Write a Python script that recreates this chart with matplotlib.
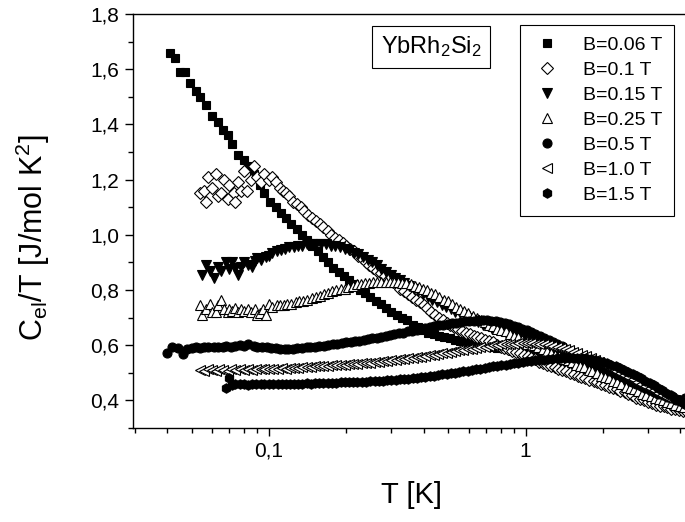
import matplotlib
matplotlib.use('Agg')
import matplotlib.pyplot as plt
from matplotlib.ticker import FixedLocator, FuncFormatter, LogLocator, NullFormatter, MultipleLocator

plt.rcParams['font.family'] = ['Liberation Sans', 'DejaVu Sans']
plt.rcParams['mathtext.fontset'] = 'custom'
plt.rcParams['mathtext.rm'] = 'Liberation Sans'
plt.rcParams['mathtext.it'] = 'Liberation Sans:italic'

# ---------------- data (T [K], C/T [J/mol K^2]) ----------------
B006 = [(0.041,1.66),(0.043,1.64),(0.045,1.59),(0.047,1.59),(0.049,1.55),(0.052,1.52),(0.054,1.50),(0.057,1.47),
        (0.060,1.43),(0.063,1.41),(0.066,1.38),(0.069,1.36),(0.072,1.33),(0.076,1.29),(0.080,1.27),(0.083,1.25),
        (0.087,1.22),(0.092,1.18),(0.096,1.15),(0.101,1.12),(0.106,1.10),(0.111,1.08),(0.116,1.06),(0.122,1.04),
        (0.128,1.02),(0.134,1.00),(0.141,0.98),(0.147,0.96),(0.155,0.94),(0.162,0.92),(0.170,0.90),(0.178,0.88),
        (0.187,0.865),(0.196,0.85),(0.205,0.835),(0.215,0.82),(0.226,0.80),(0.237,0.79),(0.248,0.775),(0.260,0.76),
        (0.273,0.75),(0.286,0.735),(0.300,0.72),(0.315,0.71),(0.330,0.70),(0.346,0.69),(0.363,0.675),(0.380,0.665),
        (0.399,0.655),(0.418,0.645),(0.438,0.64),(0.460,0.635),(0.482,0.63),(0.505,0.625),(0.530,0.62),(0.556,0.615),
        (0.583,0.61),(0.611,0.61),(0.641,0.605),(0.672,0.60),(0.705,0.60),(0.739,0.595),(0.775,0.59),(0.813,0.59),
        (0.852,0.585),(0.894,0.58),(0.937,0.575),(0.983,0.57),(1.03,0.565),(1.08,0.56),(1.13,0.555),(1.19,0.55),
        (1.25,0.545),(1.31,0.54),(1.37,0.535),(1.44,0.53),(1.51,0.52),(1.58,0.515),(1.66,0.51),(1.74,0.50),
        (1.82,0.495),(1.91,0.49),(2.00,0.48),(2.10,0.475),(2.20,0.47),(2.31,0.46),(2.42,0.455),(2.54,0.45),
        (2.66,0.44),(2.79,0.435),(2.93,0.43),(3.07,0.42),(3.22,0.41),(3.38,0.40),(3.54,0.395),(3.71,0.385),
        (3.89,0.375),(4.08,0.365),(4.2,0.36)]

B01 = [(0.054,1.15),(0.056,1.16),(0.057,1.12),(0.058,1.21),(0.060,1.17),(0.062,1.22),(0.063,1.14),(0.065,1.15),
       (0.067,1.20),(0.069,1.13),(0.070,1.18),(0.073,1.15),(0.074,1.12),(0.076,1.19),(0.078,1.16),(0.080,1.23),
       (0.082,1.16),(0.085,1.20),(0.087,1.25),(0.090,1.21),(0.093,1.19),(0.096,1.22),(0.100,1.20),(0.103,1.21),
       (0.106,1.19),(0.110,1.17),(0.113,1.16),(0.116,1.15),(0.120,1.14),(0.124,1.12),(0.128,1.11),(0.133,1.10),
       (0.137,1.085),(0.142,1.07),(0.147,1.06),(0.152,1.05),(0.158,1.04),(0.163,1.03),(0.169,1.015),(0.175,1.00),
       (0.181,0.99),(0.187,0.98),(0.194,0.97),(0.200,0.96),(0.207,0.95),(0.215,0.94),(0.222,0.925),(0.230,0.915),
       (0.238,0.90),(0.246,0.89),(0.255,0.88),(0.264,0.87),(0.273,0.86),(0.283,0.85),(0.293,0.84),(0.303,0.83),
       (0.314,0.82),(0.325,0.805),(0.336,0.795),(0.348,0.785),(0.360,0.775),(0.373,0.765),(0.386,0.755),(0.400,0.745),
       (0.414,0.735),(0.428,0.72),(0.443,0.71),(0.459,0.70),(0.475,0.69),(0.492,0.68),(0.509,0.675),(0.527,0.665),
       (0.546,0.66),(0.565,0.65),(0.585,0.645),(0.605,0.64),(0.627,0.635),(0.649,0.63),(0.672,0.625),(0.695,0.62),
       (0.720,0.615),(0.745,0.61),(0.771,0.60),(0.798,0.595),(0.826,0.59),(0.856,0.585),(0.886,0.58),(0.917,0.575),
       (0.949,0.57),(0.983,0.565),(1.02,0.56),(1.05,0.555),(1.09,0.55),(1.13,0.54),(1.17,0.535),(1.21,0.53),
       (1.25,0.525),(1.30,0.52),(1.34,0.515),(1.39,0.51),(1.44,0.505),(1.49,0.50),(1.54,0.495),(1.60,0.49),
       (1.65,0.485),(1.71,0.48),(1.77,0.475),(1.84,0.47),(1.90,0.465),(1.97,0.46),(2.04,0.455),(2.11,0.45),
       (2.19,0.445),(2.26,0.44),(2.34,0.435),(2.43,0.43),(2.51,0.425),(2.60,0.42),(2.70,0.41),(2.79,0.405),
       (2.89,0.40),(3.00,0.395),(3.10,0.39),(3.21,0.385),(3.33,0.38),(3.45,0.38),(3.57,0.375),(3.69,0.37),
       (3.82,0.37),(3.96,0.365),(4.10,0.36),(4.2,0.36)]

B015 = [(0.055,0.855),(0.057,0.89),(0.059,0.87),(0.061,0.845),(0.063,0.885),(0.065,0.87),(0.068,0.90),(0.070,0.875),
        (0.072,0.90),(0.074,0.88),(0.076,0.855),(0.078,0.885),(0.080,0.90),(0.083,0.89),(0.086,0.885),(0.088,0.905),
        (0.090,0.915),(0.093,0.91),(0.097,0.92),(0.100,0.925),(0.103,0.935),(0.107,0.94),(0.111,0.945),(0.115,0.95),
        (0.120,0.955),(0.125,0.955),(0.130,0.96),(0.135,0.96),(0.141,0.965),(0.147,0.965),(0.153,0.965),(0.160,0.965),
        (0.167,0.965),(0.174,0.96),(0.181,0.96),(0.189,0.955),(0.197,0.95),(0.205,0.945),(0.214,0.935),(0.223,0.93),
        (0.232,0.92),(0.242,0.91),(0.252,0.90),(0.263,0.89),(0.274,0.875),(0.286,0.865),(0.298,0.855),(0.310,0.845),
        (0.323,0.835),(0.337,0.825),(0.351,0.815),(0.366,0.805),(0.382,0.795),(0.398,0.785),(0.415,0.775),(0.432,0.765),
        (0.451,0.755),(0.470,0.745),(0.490,0.74),(0.510,0.73),(0.532,0.72),(0.554,0.715),(0.578,0.705),(0.602,0.70),
        (0.628,0.69),(0.654,0.685),(0.682,0.675),(0.711,0.67),(0.741,0.66),(0.772,0.655),(0.805,0.65),(0.839,0.645),
        (0.875,0.64),(0.912,0.635),(0.950,0.63),(0.990,0.625),(1.03,0.62),(1.08,0.61),(1.12,0.605),(1.17,0.595),
        (1.22,0.59),(1.27,0.58),(1.32,0.575),(1.38,0.565),(1.44,0.56),(1.50,0.55),(1.56,0.545),(1.63,0.535),
        (1.70,0.53),(1.77,0.52),(1.84,0.515),(1.92,0.51),(2.00,0.50),(2.09,0.495),(2.17,0.485),(2.27,0.48),
        (2.36,0.47),(2.46,0.465),(2.57,0.455),(2.67,0.45),(2.79,0.445),(2.91,0.435),(3.03,0.43),(3.16,0.425),
        (3.29,0.415),(3.43,0.41),(3.57,0.405),(3.72,0.395),(3.88,0.39),(4.04,0.385),(4.2,0.38)]

B025 = [(0.054,0.745),(0.055,0.71),(0.057,0.73),(0.059,0.75),(0.060,0.72),(0.062,0.72),(0.063,0.745),(0.065,0.765),
        (0.067,0.73),(0.069,0.72),(0.070,0.73),(0.072,0.725),(0.074,0.735),(0.076,0.72),(0.078,0.73),(0.080,0.725),
        (0.083,0.73),(0.085,0.72),(0.088,0.73),(0.090,0.71),(0.092,0.715),(0.095,0.73),(0.097,0.71),(0.100,0.75),
        (0.103,0.74),(0.107,0.745),(0.110,0.745),(0.114,0.745),(0.118,0.75),(0.122,0.75),(0.127,0.755),(0.131,0.76),
        (0.136,0.76),(0.141,0.765),(0.147,0.77),(0.152,0.775),(0.158,0.78),(0.164,0.785),(0.170,0.79),(0.176,0.795),
        (0.183,0.80),(0.190,0.805),(0.197,0.805),(0.204,0.81),(0.212,0.815),(0.220,0.82),(0.228,0.82),(0.237,0.825),
        (0.246,0.825),(0.255,0.83),(0.264,0.83),(0.274,0.83),(0.285,0.83),(0.295,0.83),(0.307,0.83),(0.318,0.83),
        (0.330,0.825),(0.343,0.825),(0.356,0.82),(0.369,0.815),(0.383,0.81),(0.398,0.805),(0.413,0.80),(0.428,0.79),
        (0.445,0.785),(0.461,0.775),(0.479,0.765),(0.497,0.76),(0.516,0.75),(0.535,0.74),(0.555,0.73),(0.576,0.725),
        (0.598,0.715),(0.621,0.705),(0.644,0.70),(0.669,0.69),(0.694,0.685),(0.720,0.675),(0.747,0.67),(0.776,0.66),
        (0.805,0.655),(0.835,0.65),(0.867,0.64),(0.900,0.635),(0.934,0.63),(0.969,0.62),(1.01,0.615),(1.04,0.61),
        (1.08,0.60),(1.12,0.595),(1.17,0.585),(1.21,0.58),(1.26,0.57),(1.30,0.565),(1.35,0.56),(1.41,0.55),
        (1.46,0.545),(1.51,0.54),(1.57,0.53),(1.63,0.525),(1.69,0.52),(1.76,0.51),(1.82,0.505),(1.89,0.50),
        (1.96,0.49),(2.04,0.485),(2.11,0.48),(2.19,0.47),(2.28,0.465),(2.36,0.46),(2.45,0.45),(2.55,0.445),
        (2.64,0.44),(2.74,0.435),(2.85,0.425),(2.95,0.42),(3.07,0.415),(3.18,0.41),(3.30,0.405),(3.43,0.40),
        (3.56,0.395),(3.69,0.39),(3.83,0.385),(3.98,0.38),(4.13,0.375)]

B05 = [(0.040,0.572),(0.042,0.595),(0.044,0.59),(0.046,0.568),(0.048,0.585),(0.050,0.59),(0.052,0.593),(0.054,0.59),
       (0.056,0.592),(0.058,0.595),(0.061,0.595),(0.063,0.593),(0.066,0.595),(0.068,0.597),(0.071,0.595),(0.074,0.598),
       (0.077,0.60),(0.080,0.598),(0.083,0.603),(0.087,0.598),(0.090,0.595),(0.094,0.594),(0.098,0.593),(0.102,0.59),
       (0.106,0.59),(0.110,0.588),(0.115,0.587),(0.119,0.586),(0.124,0.588),(0.129,0.59),(0.134,0.59),(0.140,0.592),
       (0.145,0.594),(0.151,0.595),(0.157,0.597),(0.164,0.598),(0.170,0.60),(0.177,0.603),(0.184,0.605),(0.192,0.607),
       (0.199,0.61),(0.208,0.612),(0.216,0.615),(0.225,0.617),(0.234,0.62),(0.243,0.622),(0.253,0.625),(0.263,0.627),
       (0.274,0.63),(0.285,0.633),(0.296,0.636),(0.308,0.64),(0.321,0.643),(0.334,0.646),(0.347,0.65),(0.361,0.653),
       (0.376,0.656),(0.391,0.66),(0.407,0.663),(0.423,0.666),(0.440,0.669),(0.458,0.672),(0.476,0.675),(0.496,0.677),
       (0.516,0.68),(0.536,0.682),(0.558,0.684),(0.580,0.686),(0.604,0.688),(0.628,0.689),(0.654,0.69),(0.680,0.69),
       (0.707,0.69),(0.736,0.688),(0.766,0.686),(0.797,0.683),(0.829,0.68),(0.862,0.676),(0.897,0.671),(0.933,0.666),
       (0.971,0.66),(1.01,0.654),(1.05,0.648),(1.09,0.641),(1.14,0.634),(1.18,0.627),(1.23,0.62),(1.28,0.612),
       (1.33,0.604),(1.38,0.596),(1.44,0.588),(1.50,0.58),(1.56,0.572),(1.62,0.564),(1.68,0.556),(1.75,0.548),
       (1.82,0.54),(1.90,0.532),(1.97,0.524),(2.05,0.516),(2.13,0.508),(2.22,0.50),(2.31,0.492),(2.40,0.484),
       (2.50,0.476),(2.60,0.468),(2.70,0.46),(2.81,0.453),(2.92,0.446),(3.04,0.439),(3.16,0.432),(3.29,0.425),
       (3.42,0.419),(3.56,0.413),(3.70,0.408),(3.85,0.403),(4.00,0.40),(4.16,0.41)]

B10 = [(0.054,0.51),(0.056,0.505),(0.058,0.512),(0.060,0.51),(0.062,0.507),(0.064,0.512),(0.066,0.51),(0.069,0.508),
       (0.071,0.512),(0.074,0.51),(0.077,0.512),(0.080,0.51),(0.083,0.513),(0.086,0.511),(0.089,0.514),(0.093,0.512),
       (0.096,0.515),(0.100,0.513),(0.104,0.515),(0.108,0.514),(0.112,0.516),(0.116,0.515),(0.121,0.517),(0.125,0.518),
       (0.130,0.519),(0.135,0.52),(0.140,0.521),(0.146,0.522),(0.151,0.523),(0.157,0.524),(0.163,0.525),(0.170,0.526),
       (0.176,0.527),(0.183,0.528),(0.190,0.529),(0.197,0.53),(0.205,0.531),(0.213,0.532),(0.221,0.533),(0.230,0.535),
       (0.239,0.536),(0.248,0.537),(0.258,0.539),(0.268,0.54),(0.278,0.542),(0.289,0.543),(0.300,0.545),(0.312,0.547),
       (0.324,0.549),(0.336,0.551),(0.349,0.553),(0.363,0.555),(0.377,0.557),(0.391,0.559),(0.407,0.561),(0.422,0.563),
       (0.439,0.566),(0.456,0.568),(0.473,0.571),(0.492,0.573),(0.511,0.576),(0.530,0.578),(0.551,0.581),(0.572,0.583),
       (0.594,0.586),(0.617,0.588),(0.641,0.59),(0.666,0.593),(0.692,0.595),(0.718,0.597),(0.746,0.599),(0.775,0.601),
       (0.805,0.603),(0.836,0.604),(0.869,0.605),(0.902,0.606),(0.937,0.607),(0.973,0.607),(1.01,0.607),(1.05,0.607),
       (1.09,0.606),(1.13,0.605),(1.18,0.603),(1.22,0.601),(1.27,0.598),(1.32,0.595),(1.37,0.591),(1.42,0.587),
       (1.48,0.582),(1.53,0.577),(1.59,0.572),(1.66,0.566),(1.72,0.56),(1.79,0.553),(1.86,0.546),(1.93,0.539),
       (2.00,0.532),(2.08,0.524),(2.16,0.516),(2.24,0.508),(2.33,0.50),(2.42,0.492),(2.51,0.484),(2.61,0.476),
       (2.71,0.468),(2.81,0.46),(2.92,0.452),(3.04,0.444),(3.15,0.436),(3.28,0.428),(3.40,0.421),(3.53,0.414),
       (3.67,0.407),(3.81,0.40),(3.96,0.394),(4.11,0.388),(4.2,0.385)]

B15 = [(0.068,0.445),(0.070,0.48),(0.072,0.455),(0.074,0.46),(0.077,0.458),(0.080,0.46),(0.083,0.457),(0.086,0.46),
       (0.089,0.458),(0.093,0.46),(0.096,0.459),(0.100,0.46),(0.104,0.459),(0.108,0.46),(0.112,0.46),(0.116,0.461),
       (0.121,0.46),(0.125,0.461),(0.130,0.46),(0.135,0.461),(0.140,0.462),(0.146,0.461),(0.151,0.462),(0.157,0.462),
       (0.163,0.463),(0.170,0.463),(0.176,0.464),(0.183,0.464),(0.190,0.465),(0.197,0.465),(0.205,0.466),(0.213,0.466),
       (0.221,0.467),(0.230,0.468),(0.239,0.468),(0.248,0.469),(0.258,0.47),(0.268,0.471),(0.278,0.472),(0.289,0.473),
       (0.300,0.474),(0.312,0.475),(0.324,0.477),(0.336,0.478),(0.349,0.479),(0.363,0.481),(0.377,0.482),(0.391,0.484),
       (0.407,0.486),(0.422,0.487),(0.439,0.489),(0.456,0.491),(0.473,0.494),(0.492,0.496),(0.511,0.498),(0.530,0.50),
       (0.551,0.503),(0.572,0.505),(0.594,0.508),(0.617,0.51),(0.641,0.513),(0.666,0.515),(0.692,0.518),(0.718,0.52),
       (0.746,0.523),(0.775,0.525),(0.805,0.528),(0.836,0.53),(0.869,0.533),(0.902,0.535),(0.937,0.537),(0.973,0.539),
       (1.01,0.541),(1.05,0.543),(1.09,0.545),(1.13,0.547),(1.18,0.548),(1.22,0.55),(1.27,0.551),(1.32,0.552),
       (1.37,0.553),(1.42,0.554),(1.48,0.554),(1.53,0.554),(1.59,0.554),(1.66,0.553),(1.72,0.552),(1.79,0.55),
       (1.86,0.547),(1.93,0.544),(2.00,0.54),(2.08,0.535),(2.16,0.53),(2.24,0.524),(2.33,0.518),(2.42,0.511),
       (2.51,0.504),(2.61,0.496),(2.71,0.488),(2.81,0.48),(2.92,0.472),(3.04,0.463),(3.15,0.455),(3.28,0.446),
       (3.40,0.437),(3.53,0.428),(3.67,0.419),(3.81,0.41),(3.96,0.40),(4.11,0.39),(4.2,0.385)]

labels = ['B=0.06 T', 'B=0.1 T', 'B=0.15 T', 'B=0.25 T', 'B=0.5 T', 'B=1.0 T', 'B=1.5 T']
datasets = [B006, B01, B015, B025, B05, B10, B15]

xtick_vals = [0.1, 1]
xtick_labels = ['0,1', '1']
ytick_vals = [0.4, 0.6, 0.8, 1.0, 1.2, 1.4, 1.6, 1.8]
ytick_labels = ['0,4', '0,6', '0,8', '1,0', '1,2', '1,4', '1,6', '1,8']

# ---------------- styles ----------------
styles = [
    dict(marker='s', mfc='black', ms=5.8),
    dict(marker='D', mfc='white', ms=6.0),
    dict(marker='v', mfc='black', ms=7.5),
    dict(marker='^', mfc='white', ms=7.5),
    dict(marker='o', mfc='black', ms=6.5),
    dict(marker='<', mfc='white', ms=7.5),
    dict(marker='h', mfc='black', ms=6.8),
]

fig = plt.figure(figsize=(6.85, 5.22), dpi=100)
ax = fig.add_axes([133/685, 94/522, 557/685, 414/522])

for lab, data, st in zip(labels, datasets, styles):
    T = [p[0] for p in data]
    C = [p[1] for p in data]
    ax.plot(T, C, linestyle='none', marker=st['marker'], mfc=st['mfc'], mec='black',
            ms=st['ms'], mew=0.8, label=lab)

ax.set_xscale('log')
ax.set_xlim(0.0295, 4.37)
ax.set_ylim(0.3, 1.8)

ax.xaxis.set_major_locator(FixedLocator(xtick_vals))
ax.xaxis.set_major_formatter(FuncFormatter(lambda v, p: xtick_labels[xtick_vals.index(min(xtick_vals, key=lambda t: abs(t - v)))]))
ax.xaxis.set_minor_locator(LogLocator(base=10, subs=[2, 3, 4, 5, 6, 7, 8, 9]))
ax.xaxis.set_minor_formatter(NullFormatter())
ax.yaxis.set_major_locator(FixedLocator(ytick_vals))
ax.set_yticklabels(ytick_labels)
ax.yaxis.set_minor_locator(MultipleLocator(0.1))

ax.tick_params(which='major', direction='out', length=6, width=1.0, labelsize=15, pad=4)
ax.tick_params(which='minor', direction='out', length=3.5, width=1.0)
for sp in ax.spines.values():
    sp.set_linewidth(1.0)

ax.set_xlabel('T [K]', fontsize=21)
ax.xaxis.set_label_coords(0.5, -0.128)
ax.set_ylabel(r'C$_{\rm el}$/T [J/mol K$^{\rm 2}$]', fontsize=22, va='center')
ax.yaxis.set_label_coords(-0.18, 0.46)

leg = ax.legend(loc='upper left', bbox_to_anchor=(520/685, 1 - 25/522), bbox_transform=fig.transFigure,
                frameon=True, fancybox=False, edgecolor='black', framealpha=1, fontsize=14,
                handlelength=1.55, handletextpad=1.1, labelspacing=0.38, borderpad=0.6, borderaxespad=0)
leg.get_frame().set_linewidth(0.8)

fig.text(431/685, 1 - 47/522, r'YbRh$_{\rm 2}$Si$_{\rm 2}$', ha='center', va='center', fontsize=17,
         bbox=dict(boxstyle='square,pad=0.38', fc='white', ec='black', lw=0.8))

fig.savefig('out.png', dpi=100)
